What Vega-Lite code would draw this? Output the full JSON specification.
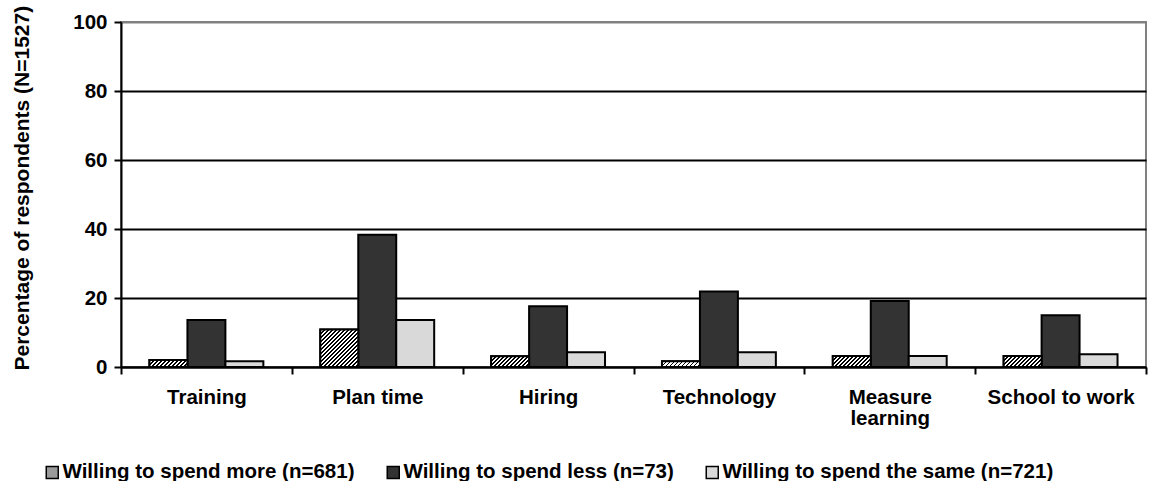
{
  "$schema": "https://vega.github.io/schema/vega-lite/v6.json",
  "width": 1025,
  "height": 345,
  "autosize": "none",
  "padding": {"left": 121, "top": 22, "right": 4, "bottom": 114},
  "background": "white",
  "config": {
    "font": "Liberation Sans",
    "view": {"stroke": "#808080", "strokeWidth": 2}
  },
  "params": [
    {"name": "hatchStops", "value": [
      {"offset": 0.00, "color": "#000"}, {"offset": 0.02, "color": "#000"}, {"offset": 0.02, "color": "#fff"}, {"offset": 0.05, "color": "#fff"},
      {"offset": 0.05, "color": "#000"}, {"offset": 0.07, "color": "#000"}, {"offset": 0.07, "color": "#fff"}, {"offset": 0.10, "color": "#fff"},
      {"offset": 0.10, "color": "#000"}, {"offset": 0.12, "color": "#000"}, {"offset": 0.12, "color": "#fff"}, {"offset": 0.15, "color": "#fff"},
      {"offset": 0.15, "color": "#000"}, {"offset": 0.17, "color": "#000"}, {"offset": 0.17, "color": "#fff"}, {"offset": 0.20, "color": "#fff"},
      {"offset": 0.20, "color": "#000"}, {"offset": 0.22, "color": "#000"}, {"offset": 0.22, "color": "#fff"}, {"offset": 0.25, "color": "#fff"},
      {"offset": 0.25, "color": "#000"}, {"offset": 0.27, "color": "#000"}, {"offset": 0.27, "color": "#fff"}, {"offset": 0.30, "color": "#fff"},
      {"offset": 0.30, "color": "#000"}, {"offset": 0.32, "color": "#000"}, {"offset": 0.32, "color": "#fff"}, {"offset": 0.35, "color": "#fff"},
      {"offset": 0.35, "color": "#000"}, {"offset": 0.37, "color": "#000"}, {"offset": 0.37, "color": "#fff"}, {"offset": 0.40, "color": "#fff"},
      {"offset": 0.40, "color": "#000"}, {"offset": 0.42, "color": "#000"}, {"offset": 0.42, "color": "#fff"}, {"offset": 0.45, "color": "#fff"},
      {"offset": 0.45, "color": "#000"}, {"offset": 0.47, "color": "#000"}, {"offset": 0.47, "color": "#fff"}, {"offset": 0.50, "color": "#fff"},
      {"offset": 0.50, "color": "#000"}, {"offset": 0.52, "color": "#000"}, {"offset": 0.52, "color": "#fff"}, {"offset": 0.55, "color": "#fff"},
      {"offset": 0.55, "color": "#000"}, {"offset": 0.57, "color": "#000"}, {"offset": 0.57, "color": "#fff"}, {"offset": 0.60, "color": "#fff"},
      {"offset": 0.60, "color": "#000"}, {"offset": 0.62, "color": "#000"}, {"offset": 0.62, "color": "#fff"}, {"offset": 0.65, "color": "#fff"},
      {"offset": 0.65, "color": "#000"}, {"offset": 0.67, "color": "#000"}, {"offset": 0.67, "color": "#fff"}, {"offset": 0.70, "color": "#fff"},
      {"offset": 0.70, "color": "#000"}, {"offset": 0.72, "color": "#000"}, {"offset": 0.72, "color": "#fff"}, {"offset": 0.75, "color": "#fff"},
      {"offset": 0.75, "color": "#000"}, {"offset": 0.77, "color": "#000"}, {"offset": 0.77, "color": "#fff"}, {"offset": 0.80, "color": "#fff"},
      {"offset": 0.80, "color": "#000"}, {"offset": 0.82, "color": "#000"}, {"offset": 0.82, "color": "#fff"}, {"offset": 0.85, "color": "#fff"},
      {"offset": 0.85, "color": "#000"}, {"offset": 0.87, "color": "#000"}, {"offset": 0.87, "color": "#fff"}, {"offset": 0.90, "color": "#fff"},
      {"offset": 0.90, "color": "#000"}, {"offset": 0.92, "color": "#000"}, {"offset": 0.92, "color": "#fff"}, {"offset": 0.95, "color": "#fff"},
      {"offset": 0.95, "color": "#000"}, {"offset": 0.97, "color": "#000"}, {"offset": 0.97, "color": "#fff"}, {"offset": 1.00, "color": "#fff"}
    ]}
  ],
  "data": {"values": [
    {"cat": "Training", "grp": "Willing to spend more (n=681)", "pct": 2.0},
    {"cat": "Training", "grp": "Willing to spend less (n=73)", "pct": 13.6},
    {"cat": "Training", "grp": "Willing to spend the same (n=721)", "pct": 1.7},
    {"cat": "Plan time", "grp": "Willing to spend more (n=681)", "pct": 10.9},
    {"cat": "Plan time", "grp": "Willing to spend less (n=73)", "pct": 38.3},
    {"cat": "Plan time", "grp": "Willing to spend the same (n=721)", "pct": 13.6},
    {"cat": "Hiring", "grp": "Willing to spend more (n=681)", "pct": 3.1},
    {"cat": "Hiring", "grp": "Willing to spend less (n=73)", "pct": 17.6},
    {"cat": "Hiring", "grp": "Willing to spend the same (n=721)", "pct": 4.3},
    {"cat": "Technology", "grp": "Willing to spend more (n=681)", "pct": 1.7},
    {"cat": "Technology", "grp": "Willing to spend less (n=73)", "pct": 21.9},
    {"cat": "Technology", "grp": "Willing to spend the same (n=721)", "pct": 4.3},
    {"cat": "Measure learning", "grp": "Willing to spend more (n=681)", "pct": 3.2},
    {"cat": "Measure learning", "grp": "Willing to spend less (n=73)", "pct": 19.1},
    {"cat": "Measure learning", "grp": "Willing to spend the same (n=721)", "pct": 3.2},
    {"cat": "School to work", "grp": "Willing to spend more (n=681)", "pct": 3.2},
    {"cat": "School to work", "grp": "Willing to spend less (n=73)", "pct": 15.0},
    {"cat": "School to work", "grp": "Willing to spend the same (n=721)", "pct": 3.7}
  ]},
  "encoding": {
    "x": {
      "field": "cat", "type": "nominal",
      "sort": ["Training", "Plan time", "Hiring", "Technology", "Measure learning", "School to work"],
      "scale": {"paddingInner": 0, "paddingOuter": 0},
      "title": null,
      "axis": {
        "tickBand": "extent", "labelAngle": 0, "grid": false,
        "labelFont": "Liberation Sans", "labelFontSize": 20.5, "labelFontWeight": "bold", "labelColor": "black",
        "labelPadding": 13, "labelLineHeight": 21, "labelLimit": 0,
        "labelExpr": "datum.label === 'Measure learning' ? ['Measure', 'learning'] : datum.label",
        "tickSize": 7, "tickWidth": 2, "tickColor": "black",
        "domainColor": "black", "domainWidth": 2
      }
    },
    "xOffset": {
      "field": "grp", "type": "nominal",
      "sort": ["Willing to spend more (n=681)", "Willing to spend less (n=73)", "Willing to spend the same (n=721)"],
      "scale": {"paddingInner": 0, "paddingOuter": 0.75}
    },
    "y": {
      "field": "pct", "type": "quantitative", "stack": null,
      "scale": {"domain": [0, 100], "nice": false},
      "title": "Percentage of respondents (N=1527)",
      "axis": {
        "values": [0, 20, 40, 60, 80, 100],
        "grid": true,
        "gridColor": {"condition": {"test": "datum.value === 100", "value": "#808080"}, "value": "black"},
        "gridWidth": 2,
        "tickSize": 7, "tickWidth": 2, "tickColor": "black",
        "domainColor": "black", "domainWidth": 2,
        "labelFont": "Liberation Sans", "labelFontSize": 20.5, "labelFontWeight": "bold", "labelColor": "black",
        "labelPadding": 7,
        "titleFont": "Liberation Sans", "titleFontSize": 21, "titleFontWeight": "bold", "titleColor": "black",
        "titleAngle": -90, "titleAlign": "left", "titleBaseline": "alphabetic",
        "titleX": -93, "titleY": 348
      }
    }
  },
  "layer": [
    {
      "mark": {"type": "bar", "stroke": "black", "strokeWidth": 2},
      "encoding": {
        "color": {
          "field": "grp", "type": "nominal",
          "scale": {
            "domain": ["Willing to spend more (n=681)", "Willing to spend less (n=73)", "Willing to spend the same (n=721)"],
            "range": ["#9a9a9a", "#333333", "#d9d9d9"]
          },
          "legend": {
            "orient": "none", "legendX": -79, "legendY": 440,
            "direction": "horizontal", "title": null,
            "symbolType": "square", "symbolSize": 144,
            "symbolStrokeColor": "black", "symbolStrokeWidth": 1.5, "symbolOpacity": 1,
            "labelFont": "Liberation Sans", "labelFontSize": 20.5, "labelFontWeight": "bold", "labelColor": "black",
            "labelOffset": 0, "labelLimit": 0, "columnPadding": 28,
            "encode": {
              "symbols": {
                "update": {
                  "stroke": {"value": "black"},
                  "strokeWidth": {"value": 1.5}
                }
              }
            }
          }
        }
      }
    },
    {
      "transform": [{"filter": "datum.grp === 'Willing to spend more (n=681)'"}],
      "mark": {
        "type": "bar", "stroke": "black", "strokeWidth": 2,
        "fill": {"expr": "{gradient: 'linear', x1: 0, y1: 0, x2: bandwidth('xOffset') * 80 / (pow(bandwidth('xOffset'), 2) + pow(scale('y', 0) - scale('y', datum.pct), 2)), y2: (scale('y', 0) - scale('y', datum.pct)) * 80 / (pow(bandwidth('xOffset'), 2) + pow(scale('y', 0) - scale('y', datum.pct), 2)), stops: hatchStops}"}
      }
    }
  ]
}
